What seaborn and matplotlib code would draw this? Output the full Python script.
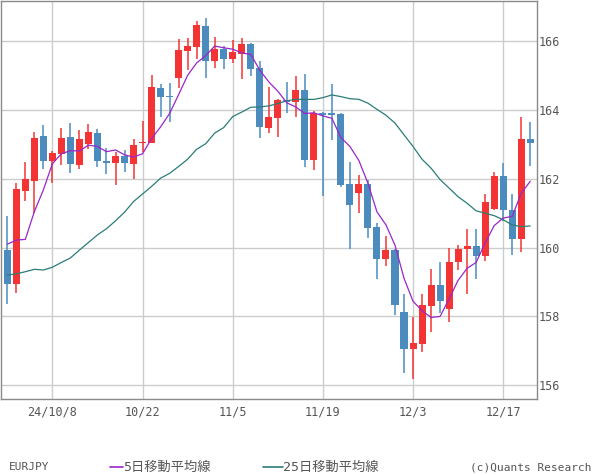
import numpy as np
import pandas as pd
import matplotlib
matplotlib.use("Agg")
import matplotlib.pyplot as plt
import seaborn as sns
from matplotlib.lines import Line2D

# ---------------- data ----------------
dates = pd.bdate_range("2024-10-01", "2024-12-20")

opens = [159.93, 158.95, 161.66, 161.95, 163.25, 162.53, 162.73, 163.22, 162.41, 163.00,
         163.34, 162.52, 162.47, 162.67, 162.44, 163.03, 163.05, 164.64, 164.41, 164.94,
         165.72, 165.84, 166.45, 165.43, 165.78, 165.49, 165.63, 165.92, 165.22, 163.48,
         163.78, 164.29, 164.22, 164.59, 162.56, 163.90, 163.90, 163.89, 161.85, 161.60,
         161.85, 160.60, 159.68, 159.94, 158.13, 157.04, 157.21, 158.29, 158.92, 158.23,
         159.57, 159.95, 160.05, 159.77, 161.11, 162.09, 161.10, 160.26, 163.16]
highs = [160.92, 161.88, 162.49, 163.36, 163.57, 162.81, 163.48, 163.63, 163.42, 163.60,
         163.45, 162.90, 162.78, 162.84, 163.16, 163.68, 165.02, 164.76, 164.79, 166.07,
         166.10, 166.59, 166.68, 166.13, 165.86, 166.04, 166.10, 165.95, 165.43, 164.67,
         164.32, 164.82, 164.99, 165.05, 163.97, 163.93, 164.76, 163.90, 162.49, 162.11,
         161.97, 160.73, 160.34, 159.95, 158.66, 157.99, 158.66, 159.38, 159.59, 159.99,
         160.08, 160.54, 160.54, 161.56, 162.20, 162.46, 161.57, 163.80, 163.66]
lows = [158.36, 158.69, 161.37, 161.02, 162.30, 161.89, 162.39, 162.18, 162.30, 162.88,
        162.33, 162.15, 161.83, 162.21, 162.01, 162.79, 163.03, 163.81, 163.64, 164.65,
        165.15, 165.49, 164.94, 165.22, 165.20, 165.37, 164.91, 164.99, 163.20, 163.34,
        163.23, 163.91, 163.81, 162.33, 162.27, 161.51, 163.14, 161.75, 159.95, 161.00,
        160.29, 159.10, 159.48, 158.03, 156.37, 156.19, 156.98, 157.56, 158.11, 157.85,
        159.36, 158.66, 159.10, 159.62, 161.08, 160.76, 159.80, 159.86, 162.36]
closes = [158.95, 161.71, 162.00, 163.19, 162.53, 162.75, 163.19, 162.44, 163.16, 163.36,
          162.53, 162.47, 162.67, 162.47, 162.99, 163.07, 164.66, 164.38, 164.38, 165.75,
          165.86, 166.47, 165.43, 165.78, 165.49, 165.69, 165.92, 165.20, 163.51, 163.80,
          164.30, 164.24, 164.59, 162.56, 163.90, 163.87, 163.86, 161.83, 161.25, 161.85,
          160.58, 159.68, 159.94, 158.32, 157.04, 157.24, 158.32, 158.92, 158.46, 159.59,
          159.96, 160.05, 159.77, 161.33, 162.09, 161.08, 160.26, 163.16, 163.05]
ma5 = [160.10, 160.22, 160.24, 161.05, 161.68, 162.44, 162.73, 162.82, 162.81, 162.98,
       162.94, 162.79, 162.84, 162.70, 162.63, 162.73, 163.17, 163.51, 163.90, 164.45,
       165.01, 165.37, 165.58, 165.86, 165.81, 165.77, 165.66, 165.62, 165.16, 164.82,
       164.55, 164.21, 164.09, 163.90, 163.92, 163.83, 163.76, 163.20, 162.94, 162.53,
       161.87, 161.04, 160.66, 160.07, 159.11, 158.44, 158.17, 157.97, 158.00, 158.51,
       159.05, 159.40, 159.57, 160.14, 160.64, 160.86, 160.91, 161.58, 161.93]
ma25 = [159.20, 159.24, 159.30, 159.37, 159.35, 159.43, 159.57, 159.70, 159.93, 160.15,
        160.37, 160.55, 160.78, 161.03, 161.34, 161.56, 161.78, 162.02, 162.16, 162.36,
        162.57, 162.86, 163.02, 163.33, 163.49, 163.81, 163.94, 164.08, 164.09, 164.12,
        164.19, 164.27, 164.31, 164.31, 164.31, 164.36, 164.44, 164.39, 164.33, 164.31,
        164.20, 164.02, 163.85, 163.62, 163.28, 162.94, 162.57, 162.31, 161.98, 161.73,
        161.48, 161.29, 161.07, 161.00, 160.93, 160.81, 160.66, 160.61, 160.63]

tick_dates = ["2024-10-08", "2024-10-22", "2024-11-05", "2024-11-19", "2024-12-03", "2024-12-17"]
tick_labels = ["24/10/8", "10/22", "11/5", "11/19", "12/3", "12/17"]
y_ticks = [156, 158, 160, 162, 164, 166]

symbol = "EURJPY"
ma5_label = "5日移動平均線"
ma25_label = "25日移動平均線"
credit = "(c)Quants Research"

# ---------------- styling ----------------
sns.set_style("white")
plt.rcParams["font.family"] = ["DejaVu Sans Mono", "Noto Sans CJK JP"]

UP = "#f43434"
DOWN = "#4b8bbe"
MA5_C = "#9b26c9"
MA25_C = "#2a7d78"
TXT = "#555555"

df = pd.DataFrame({"date": dates, "open": opens, "high": highs, "low": lows,
                   "close": closes, "ma5": ma5, "ma25": ma25})
df["x"] = np.arange(len(df))
df["up"] = df["close"] >= df["open"]
df["color"] = np.where(df["up"], UP, DOWN)

fig = plt.figure(figsize=(6.0, 4.75), dpi=100)
ax = fig.add_axes([1 / 600, 76 / 475, 536 / 600, 398 / 475])

# grid
ax.set_axisbelow(True)
ax.grid(True, color="#cccccc", linewidth=1.0)

# wicks
ax.vlines(df["x"], df["low"], df["high"], colors=df["color"], linewidth=1.1, zorder=2)
# bodies
body = (df["close"] - df["open"]).abs().clip(lower=0.03)
bottom = df[["open", "close"]].min(axis=1)
ax.bar(df["x"], body, bottom=bottom, width=0.78, color=df["color"], linewidth=0, zorder=3)

# moving averages
sns.lineplot(data=df, x="x", y="ma25", ax=ax, color=MA25_C, linewidth=0.9, zorder=4)
sns.lineplot(data=df, x="x", y="ma5", ax=ax, color=MA5_C, linewidth=0.9, zorder=5)

ax.set_xlim(-0.7, 58.75)
ax.set_ylim(155.60, 167.17)

xt = [int(np.where(df["date"] == pd.Timestamp(d))[0][0]) for d in tick_dates]
ax.set_xticks(xt)
ax.set_xticklabels(tick_labels)
ax.set_yticks(y_ticks)
ax.set_yticklabels([str(v) for v in y_ticks])
ax.yaxis.tick_right()
ax.tick_params(axis="both", length=0, labelsize=8.5, colors=TXT)
ax.tick_params(axis="y", pad=1.5)
ax.tick_params(axis="x", pad=5)
ax.set_xlabel("")
ax.set_ylabel("")
for s in ax.spines.values():
    s.set_visible(True)
    s.set_color("#8a8a8a")
    s.set_linewidth(1.0)

# bottom legend row
yl = 1 - 467 / 475
fig.text(9 / 600, yl, symbol, fontsize=8, color=TXT, va="center", ha="left")
fig.add_artist(Line2D([110 / 600, 123 / 600], [yl, yl], color=MA5_C, linewidth=1.2))
fig.text(123 / 600, yl, ma5_label, fontsize=9.5, color=TXT, va="center", ha="left",
         family=["DejaVu Sans Mono", "Noto Sans CJK JP"])
fig.add_artist(Line2D([263 / 600, 283 / 600], [yl, yl], color=MA25_C, linewidth=1.2))
fig.text(283 / 600, yl, ma25_label, fontsize=9.5, color=TXT, va="center", ha="left",
         family=["DejaVu Sans Mono", "Noto Sans CJK JP"])
fig.text(591 / 600, yl, credit, fontsize=8, color=TXT, va="center", ha="right")

fig.savefig("out.png", dpi=100)
